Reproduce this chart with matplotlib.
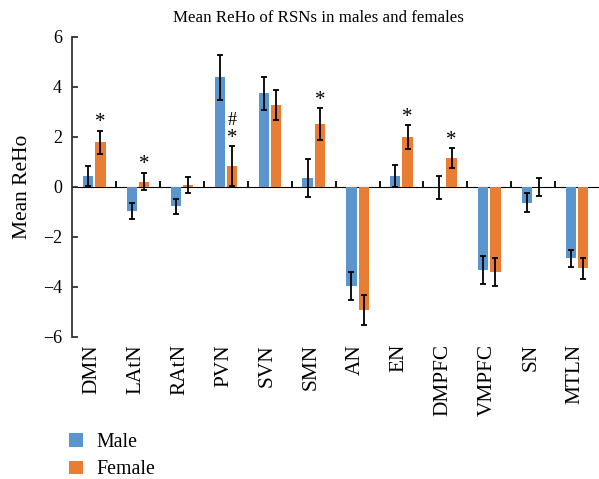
import matplotlib
matplotlib.use("Agg")
import matplotlib.pyplot as plt
import numpy as np

networks = ['DMN', 'LAtN', 'RAtN', 'PVN', 'SVN', 'SMN', 'AN', 'EN',
            'DMPFC', 'VMPFC', 'SN', 'MTLN']
male = [0.43, -0.97, -0.77, 4.39, 3.75, 0.35, -3.96, 0.43, -0.02, -3.33, -0.64, -2.85]
male_err = [0.40, 0.33, 0.30, 0.90, 0.66, 0.76, 0.55, 0.45, 0.46, 0.56, 0.38, 0.34]
female = [1.79, 0.21, 0.07, 0.83, 3.27, 2.51, -4.92, 1.99, 1.15, -3.40, 0.01, -3.25]
female_err = [0.46, 0.35, 0.33, 0.80, 0.60, 0.63, 0.60, 0.48, 0.40, 0.55, 0.36, 0.42]
marks = ['*', '*', '', '*', '', '*', '', '*', '*', '', '', '']
hash_marks = ['', '', '', '#', '', '', '', '', '', '', '', '']

blue = '#5B95CD'
orange = '#E97D33'

plt.rcParams['font.family'] = ['Liberation Serif', 'DejaVu Serif']

fig = plt.figure(figsize=(5.99, 4.79), dpi=100)
ax = fig.add_axes([0.1207, 0.2965, 0.8793, 0.6263])

x = np.arange(len(networks))
w = 0.235
bm = ax.bar(x - 0.14, male, w, color=blue, yerr=male_err, capsize=2.5,
            error_kw=dict(ecolor='black', elinewidth=1.3, capthick=1.3), label='Male', zorder=2)
bf = ax.bar(x + 0.14, female, w, color=orange, yerr=female_err, capsize=2.5,
            error_kw=dict(ecolor='black', elinewidth=1.3, capthick=1.3), label='Female', zorder=2)

# significance marks above female error bars
for i in range(len(networks)):
    top = female[i] + female_err[i]
    if marks[i]:
        ax.annotate(marks[i], (x[i] + 0.14, top), xytext=(0, -1), textcoords='offset points',
                    ha='center', va='bottom', fontsize=15)
    if hash_marks[i]:
        ax.annotate(hash_marks[i], (x[i] + 0.14, top), xytext=(0, 12.5), textcoords='offset points',
                    ha='center', va='bottom', fontsize=13)

ax.set_xlim(-0.5, len(networks) - 0.5)
ax.set_ylim(-6, 6)
ax.set_yticks([-6, -4, -2, 0, 2, 4, 6])
ax.set_yticklabels(['\u22126', '\u22124', '\u22122', '0', '2', '4', '6'])
ax.tick_params(axis='y', direction='in', length=4, width=1.3, labelsize=13, pad=7.5, color='#333333')

ax.set_xticks(x - 0.05)
ax.set_xticklabels(networks, rotation=90, fontsize=15.3)
ax.tick_params(axis='x', length=0, pad=5)

for s in ['top', 'right', 'bottom']:
    ax.spines[s].set_visible(False)
ax.spines['left'].set_linewidth(1.3)
ax.spines['left'].set_color('#333333')

# zero line with category separators (ticks point up)
zero = ax.secondary_xaxis(0.5)
zero.set_xticks(np.arange(0.5, len(networks) - 1, 1))
zero.set_xticklabels([])
zero.tick_params(direction='out', length=4, width=1.3)
zero.spines['bottom'].set_linewidth(1.3)

ax.set_ylabel('Mean ReHo', fontsize=15.5, labelpad=8)
fig.text(0.532, 0.963, 'Mean ReHo of RSNs in males and females', ha='center', va='center', fontsize=12.2)

fig.legend(handles=[bm, bf], labels=['Male', 'Female'], loc='upper left',
           bbox_to_anchor=(0.116, 0.097), frameon=False, fontsize=14.3,
           handlelength=0.7, handleheight=0.7, handletextpad=0.65, labelspacing=0.45,
           borderaxespad=0, borderpad=0)

fig.savefig('out.png', dpi=100)
